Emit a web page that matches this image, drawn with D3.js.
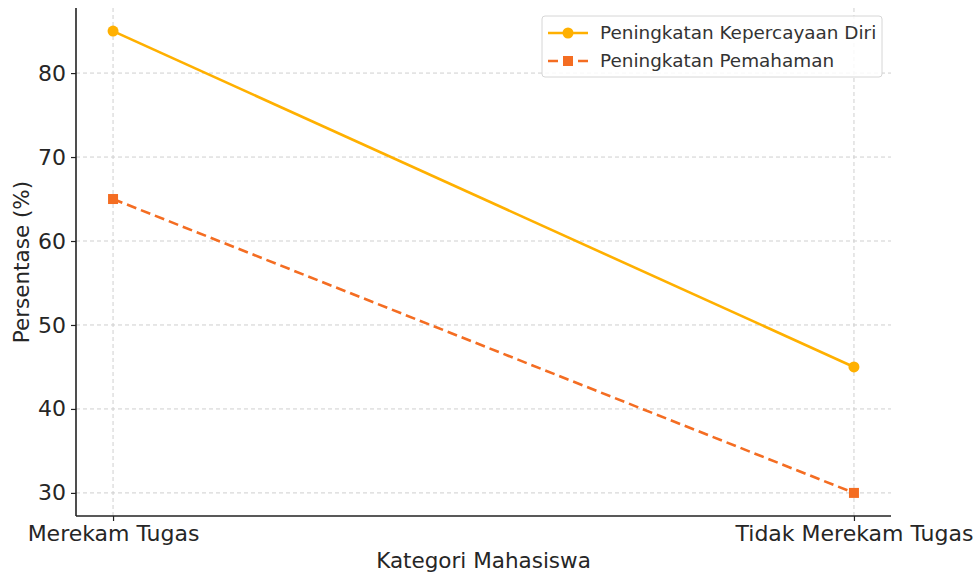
<!DOCTYPE html>
<html>
<head>
<meta charset="utf-8">
<script src="https://cdn.jsdelivr.net/npm/d3@7"></script>
<style>
  body { margin: 0; background: #ffffff; }
  svg { display: block; font-family: "DejaVu Sans", sans-serif; }
</style>
</head>
<body>
<svg id="chart"></svg>
<script>
// Data
const categories = ["Merekam Tugas", "Tidak Merekam Tugas"];
const kepercayaan = [85, 45];
const pemahaman = [65, 30];
const yTicks = [30, 40, 50, 60, 70, 80];
const seriesNames = ["Peningkatan Kepercayaan Diri", "Peningkatan Pemahaman"];

// Dimensions and margins
const width = 979;
const height = 574;
const margin = {top: 8, right: 88, bottom: 58, left: 76};
const innerW = width - margin.left - margin.right;
const innerH = height - margin.top - margin.bottom;

const svg = d3.select("#chart")
    .attr("width", width)
    .attr("height", height);

const g = svg.append("g").attr("transform", `translate(${margin.left},${margin.top})`);

// Scales (matplotlib-like 5% margins)
const x = d3.scaleLinear().domain([-0.05, 1.05]).range([0, innerW]);
const y = d3.scaleLinear().domain([27.25, 87.75]).range([innerH, 0]);

// Grid
g.append("g")
    .selectAll("line")
    .data(yTicks)
    .join("line")
    .attr("x1", 0).attr("x2", innerW)
    .attr("y1", d => y(d)).attr("y2", d => y(d))
    .attr("stroke", "#cfcfcf").attr("stroke-width", 1)
    .attr("stroke-dasharray", "4,3");

g.append("g")
    .selectAll("line")
    .data(categories)
    .join("line")
    .attr("x1", (d, i) => x(i)).attr("x2", (d, i) => x(i))
    .attr("y1", 0).attr("y2", innerH)
    .attr("stroke", "#cfcfcf").attr("stroke-width", 1)
    .attr("stroke-dasharray", "4,3");

// Axes
const yAxis = g.append("g")
    .call(d3.axisLeft(y).tickValues(yTicks).tickSize(5).tickPadding(5));
const xAxis = g.append("g")
    .attr("transform", `translate(0,${innerH})`)
    .call(d3.axisBottom(x).tickValues([0, 1]).tickFormat(i => categories[i]).tickSize(5).tickPadding(4));

[yAxis, xAxis].forEach(ax => {
    ax.select(".domain").attr("stroke", "#222222").attr("stroke-width", 1.6);
    ax.selectAll(".tick line").attr("stroke", "#222222").attr("stroke-width", 1.2);
    ax.selectAll(".tick text")
        .attr("fill", "#262626")
        .style("font-size", "22px")
        .style("font-family", "DejaVu Sans, sans-serif");
});
yAxis.select(".domain").attr("d", `M0,0V${innerH}`);
xAxis.select(".domain").attr("d", `M0,0H${innerW}`);

// Axis labels
svg.append("text")
    .attr("x", margin.left + innerW / 2)
    .attr("y", height - 6)
    .attr("text-anchor", "middle")
    .attr("fill", "#262626")
    .style("font-size", "21.5px")
    .text("Kategori Mahasiswa");

svg.append("text")
    .attr("transform", `translate(29,${margin.top + innerH / 2}) rotate(-90)`)
    .attr("text-anchor", "middle")
    .attr("fill", "#262626")
    .style("font-size", "21.5px")
    .text("Persentase (%)");

// Lines
const line = d3.line().x((d, i) => x(i)).y(d => y(d));
const c1 = "#ffb000";
const c2 = "#f46d22";

g.append("path")
    .datum(kepercayaan)
    .attr("d", line)
    .attr("fill", "none")
    .attr("stroke", c1)
    .attr("stroke-width", 2.6);

g.append("path")
    .datum(pemahaman)
    .attr("d", line)
    .attr("fill", "none")
    .attr("stroke", c2)
    .attr("stroke-width", 2.6)
    .attr("stroke-dasharray", "10,5");

g.selectAll(".pt-k")
    .data(kepercayaan)
    .join("circle")
    .attr("class", "pt-k")
    .attr("cx", (d, i) => x(i))
    .attr("cy", d => y(d))
    .attr("r", 5.5)
    .attr("fill", c1);

g.selectAll(".pt-p")
    .data(pemahaman)
    .join("rect")
    .attr("class", "pt-p")
    .attr("x", (d, i) => x(i) - 5)
    .attr("y", d => y(d) - 5)
    .attr("width", 10)
    .attr("height", 10)
    .attr("fill", c2);

// Legend
const legend = svg.append("g").attr("transform", "translate(542,16)");
legend.append("rect")
    .attr("width", 340).attr("height", 61)
    .attr("rx", 3)
    .attr("fill", "#ffffff").attr("fill-opacity", 0.85)
    .attr("stroke", "#d6d6d6").attr("stroke-width", 1);

const lg1 = legend.append("g").attr("transform", "translate(0,17)");
lg1.append("line").attr("x1", 6).attr("x2", 46).attr("stroke", c1).attr("stroke-width", 2.6);
lg1.append("circle").attr("cx", 26).attr("r", 5.5).attr("fill", c1);
lg1.append("text").attr("x", 58).attr("dy", "0.35em")
    .attr("fill", "#333333").style("font-size", "18.4px").text(seriesNames[0]);

const lg2 = legend.append("g").attr("transform", "translate(0,45)");
lg2.append("line").attr("x1", 6).attr("x2", 46).attr("stroke", c2).attr("stroke-width", 2.6)
    .attr("stroke-dasharray", "10,5");
lg2.append("rect").attr("x", 21).attr("y", -5).attr("width", 10).attr("height", 10).attr("fill", c2);
lg2.append("text").attr("x", 58).attr("dy", "0.35em")
    .attr("fill", "#333333").style("font-size", "18.4px").text(seriesNames[1]);
</script>
</body>
</html>
